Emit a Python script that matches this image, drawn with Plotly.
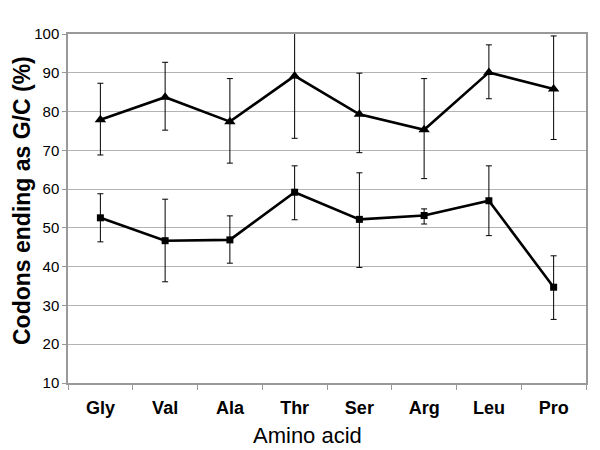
import plotly.graph_objects as go

amino_acids = ["Gly", "Val", "Ala", "Thr", "Ser", "Arg", "Leu", "Pro"]

# upper series (triangles)
tri_vals = [77.9, 83.7, 77.4, 89.2, 79.3, 75.3, 90.1, 85.8]
tri_hi = [87.3, 92.7, 88.5, 105.0, 89.9, 88.5, 97.2, 99.5]
tri_lo = [68.8, 75.2, 66.7, 73.1, 69.4, 62.7, 83.3, 72.8]

# lower series (squares)
sq_vals = [52.6, 46.7, 46.9, 59.2, 52.2, 53.2, 57.0, 34.7]
sq_hi = [58.8, 57.4, 53.1, 66.0, 64.2, 54.9, 66.0, 42.8]
sq_lo = [46.4, 36.1, 40.9, 52.1, 39.8, 51.0, 48.0, 26.4]

y_ticks = [10, 20, 30, 40, 50, 60, 70, 80, 90, 100]


def err(vals, hi, lo):
    return ([h - v for v, h in zip(vals, hi)], [v - l for v, l in zip(vals, lo)])


fig = go.Figure()
for vals, hi, lo, sym, size in [
    (tri_vals, tri_hi, tri_lo, "triangle-up", 10),
    (sq_vals, sq_hi, sq_lo, "square", 7),
]:
    up, dn = err(vals, hi, lo)
    fig.add_trace(go.Scatter(
        x=amino_acids, y=vals, mode="lines+markers",
        line=dict(color="black", width=2.6),
        marker=dict(symbol=sym, size=size, color="black"),
        error_y=dict(type="data", symmetric=False, array=up, arrayminus=dn,
                     color="black", thickness=1, width=3),
        showlegend=False,
    ))

L, R, T, B = 68, 14, 34, 67
pw = 600 - L - R
ph = 450 - T - B

fig.update_layout(
    width=600, height=450,
    margin=dict(l=L, r=R, t=T, b=B),
    paper_bgcolor="white", plot_bgcolor="white",
    font=dict(family="Liberation Sans, Arial, sans-serif", color="black"),
    xaxis=dict(
        type="category", tickson="boundaries", ticks="outside", ticklen=5,
        ticklabelstandoff=8,
        tickcolor="#999999", showline=True, linecolor="#999999", linewidth=1.5,
        mirror=True, showgrid=False, automargin=False,
        tickfont=dict(size=18, family="Liberation Sans, Arial", weight="bold"),
        range=[-0.5, 7.5],
    ),
    yaxis=dict(
        range=[10, 100], tickvals=y_ticks, ticks="outside", ticklen=4,
        tickcolor="#999999", showline=True, linecolor="#999999", linewidth=1.5,
        mirror=True, showgrid=True, gridcolor="#b3b3b3", gridwidth=1,
        automargin=False,
        tickfont=dict(size=15, family="Liberation Sans Narrow, Arial Narrow, Liberation Sans"),
    ),
    annotations=[
        dict(
            text="Amino acid", x=(307 - L) / pw, xref="paper",
            y=(450 - B - 435) / ph, yref="paper", xanchor="center", yanchor="middle",
            showarrow=False, font=dict(size=22, family="Liberation Sans, Arial"),
        ),
        dict(
            text="<b>Codons ending as G/C (%)</b>", x=(22 - L) / pw, xref="paper",
            y=(450 - B - 201) / ph, yref="paper", xanchor="center", yanchor="middle",
            textangle=-90, showarrow=False,
            font=dict(size=23, family="Liberation Sans, Arial"),
        ),
    ],
)

fig.write_html(
    "out.html",
    config={"displayModeBar": False},
    post_script="document.body.style.margin='0';document.body.style.overflow='hidden';",
)
